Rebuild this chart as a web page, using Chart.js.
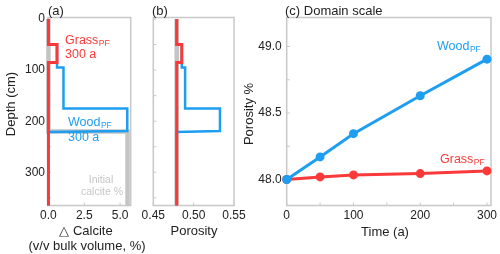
<!DOCTYPE html>
<html>
<head>
<meta charset="utf-8">
<script src="https://cdn.jsdelivr.net/npm/chart.js@4.4.1/dist/chart.umd.min.js"></script>
<style>
html, body { margin: 0; padding: 0; background: #fff; }
#wrap { position: relative; width: 500px; height: 254px; overflow: hidden; }
canvas { position: absolute; left: 0; top: 0; }
</style>
</head>
<body>
<div id="wrap">
<canvas id="chartA" width="500" height="254"></canvas>
<canvas id="chartB" width="500" height="254"></canvas>
<canvas id="chartC" width="500" height="254"></canvas>
</div>
<script>
// ---- data ----
// depth profiles (cm), step shaped
const grassDepth = [0, 50, 50, 85, 85, 365];
const woodDepth = [0, 50, 50, 95, 95, 175, 175, 219, 221, 365];
const initDepthA = [0, 220, 220, 365];
const initDepthB = [0, 365];

// (a) change in calcite, v/v bulk volume %
const grassCalcite = [0, 0, 0.6, 0.6, 0, 0];
const woodCalcite = [0, 0, 0.6, 0.6, 1.05, 1.05, 5.5, 5.5, 0, 0];
const initCalcite = [0, 0, 5.52, 5.52];

// (b) porosity
const grassPoro = [0.479, 0.479, 0.4853, 0.4853, 0.479, 0.479];
const woodPoro = [0.479, 0.479, 0.4853, 0.4853, 0.4894, 0.4894, 0.5326, 0.5326, 0.479, 0.479];
const initPoro = [0.479, 0.479];

// (c) domain scale porosity % over time
const timeYears = [0, 50, 100, 200, 300];
const woodDomain = [48.0, 48.17, 48.345, 48.63, 48.905];
const grassDomain = [48.0, 48.02, 48.035, 48.045, 48.065];

const RED = "#fa3a3a";
const BLUE = "#1e9ef0";
const GRAY = "#c4c4c4";
const FRAME = "#c8c8c8";

Chart.defaults.font.family = "'Liberation Sans', Arial, sans-serif";
Chart.defaults.font.size = 12;
Chart.defaults.color = "#222";
Chart.defaults.animation = false;

function pts(xs, ys) {
    return xs.map((x, i) => ({ x: x, y: ys[i] }));
}

function stepLine(label, xs, ys, color, width) {
    return {
        label: label,
        data: pts(xs, ys),
        showLine: true,
        borderColor: color,
        backgroundColor: color,
        borderWidth: width,
        pointRadius: 0,
        tension: 0,
        clip: false
    };
}

// fix the axis boxes so every plot area lands where the figure has it
function sizeX(h) {
    return s => { s.height = h; s.paddingLeft = 0; s.paddingRight = 0; };
}
function sizeY(w) {
    return s => { s.width = w; s.paddingTop = 0; s.paddingBottom = 0; };
}

// grey frame plus short inward tick marks
const frameTicks = {
    id: "frameTicks",
    beforeDatasetsDraw(chart) {
        const { ctx, chartArea: a, scales } = chart;
        ctx.save();
        ctx.strokeStyle = FRAME;
        ctx.lineWidth = 1.5;
        ctx.strokeRect(a.left, a.top, a.width, a.height);
        ctx.lineWidth = 1;
        [scales.x, scales.y].forEach(s => {
            s.ticks.forEach(t => {
                const p = s.getPixelForValue(t.value);
                ctx.beginPath();
                if (s.isHorizontal()) {
                    ctx.moveTo(p, a.bottom);
                    ctx.lineTo(p, a.bottom - 3);
                } else {
                    ctx.moveTo(a.left, p);
                    ctx.lineTo(a.left + 3, p);
                }
                ctx.stroke();
            });
        });
        ctx.restore();
    }
};

// titles, axis names and in-plot labels
const notes = [
    { t: "(a)", x: 48, y: 11 },
    { t: "(b)", x: 152, y: 11 },
    { t: "(c) Domain scale", x: 285, y: 11 },
    { t: "Depth (cm)", x: 11, y: 104, rot: true },
    { t: "Porosity %", x: 249, y: 114, rot: true },
    { t: "\u25B3 Calcite", x: 86, y: 231, align: "center" },
    { t: "(v/v bulk volume, %)", x: 87, y: 246, align: "center" },
    { t: "Porosity", x: 194, y: 231, align: "center" },
    { t: "Time (a)", x: 385, y: 232, align: "center" },
    { t: "Grass", sub: "PF", x: 65, y: 41, color: RED, size: 12.5 },
    { t: "300 a", x: 65, y: 55, color: RED, size: 12.5 },
    { t: "Wood", sub: "PF", x: 68, y: 123, color: BLUE, size: 12.5 },
    { t: "300 a", x: 68, y: 137.5, color: BLUE, size: 12.5 },
    { t: "Initial", x: 101, y: 180, color: "#c6c6c6", size: 10.5, align: "center" },
    { t: "calcite %", x: 102, y: 192.5, color: "#c6c6c6", size: 10.5, align: "center" },
    { t: "Wood", sub: "PF", x: 437, y: 47, color: BLUE, size: 12.5 },
    { t: "Grass", sub: "PF", x: 440, y: 160, color: RED, size: 12.5 }
];

const textLayer = {
    id: "textLayer",
    afterDraw(chart) {
        const ctx = chart.ctx;
        const fam = Chart.defaults.font.family;
        ctx.save();
        ctx.textBaseline = "middle";
        notes.forEach(n => {
            const size = n.size || 13;
            ctx.font = size + "px " + fam;
            ctx.fillStyle = n.color || "#222";
            ctx.textAlign = n.align || "left";
            if (n.rot) {
                ctx.save();
                ctx.translate(n.x, n.y);
                ctx.rotate(-Math.PI / 2);
                ctx.textAlign = "center";
                ctx.fillText(n.t, 0, 0);
                ctx.restore();
                return;
            }
            ctx.fillText(n.t, n.x, n.y);
            if (n.sub) {
                const w = ctx.measureText(n.t).width;
                ctx.font = (size * 0.68) + "px " + fam;
                ctx.textAlign = "left";
                ctx.fillText(n.sub, n.x + w + 0.5, n.y + 3);
            }
        });
        ctx.restore();
    }
};

const quiet = { legend: { display: false }, tooltip: { enabled: false } };
const noGrid = { display: false, drawTicks: false };
const noBorder = { display: false };

// (a) delta calcite vs depth
new Chart(document.getElementById("chartA"), {
    type: "scatter",
    data: {
        datasets: [
            stepLine("Grass PF", grassCalcite, grassDepth, RED, 3),
            stepLine("Wood PF", woodCalcite, woodDepth, BLUE, 2.5),
            stepLine("Initial calcite", initCalcite, initDepthA, GRAY, 4.5)
        ]
    },
    options: {
        responsive: false,
        layout: { padding: { left: 0, top: 17.5, right: 369.3, bottom: 0 } },
        plugins: quiet,
        scales: {
            x: {
                type: "linear", min: -0.03, max: 5.74,
                afterFit: sizeX(48.5),
                grid: noGrid, border: noBorder,
                ticks: { stepSize: 2.5, includeBounds: false, padding: 3, autoSkip: false, maxRotation: 0,
                    callback: v => v.toFixed(1) }
            },
            y: {
                type: "linear", reverse: true, min: -3, max: 365,
                afterFit: sizeY(48),
                grid: noGrid, border: noBorder,
                ticks: { stepSize: 50, includeBounds: false, padding: 3, autoSkip: false,
                    callback: v => (v % 100 === 0 ? v : "") }
            }
        }
    },
    plugins: [frameTicks]
});

// (b) porosity vs depth
new Chart(document.getElementById("chartB"), {
    type: "scatter",
    data: {
        datasets: [
            stepLine("Grass PF", grassPoro, grassDepth, RED, 3),
            stepLine("Wood PF", woodPoro, woodDepth, BLUE, 2.5),
            stepLine("Initial", initPoro, initDepthB, GRAY, 4.5)
        ]
    },
    options: {
        responsive: false,
        layout: { padding: { left: 0, top: 17.5, right: 266, bottom: 0 } },
        plugins: quiet,
        scales: {
            x: {
                type: "linear", min: 0.45, max: 0.55,
                afterFit: sizeX(48.5),
                grid: noGrid, border: noBorder,
                ticks: { stepSize: 0.05, includeBounds: false, padding: 3, autoSkip: false, maxRotation: 0,
                    callback: v => v.toFixed(2) }
            },
            y: {
                type: "linear", reverse: true, min: -3, max: 365,
                afterFit: sizeY(153.3),
                grid: noGrid, border: noBorder,
                ticks: { stepSize: 50, includeBounds: false, display: false }
            }
        }
    },
    plugins: [frameTicks]
});

// (c) domain scale porosity over time
const dotLine = (label, ys, color) => ({
    label: label,
    data: pts(timeYears, ys),
    showLine: true,
    borderColor: color,
    backgroundColor: color,
    borderWidth: 3,
    pointRadius: 4.5,
    pointBorderWidth: 0,
    pointBackgroundColor: color,
    clip: false
});

new Chart(document.getElementById("chartC"), {
    type: "scatter",
    data: {
        datasets: [
            dotLine("Wood PF", woodDomain, BLUE),
            dotLine("Grass PF", grassDomain, RED)
        ]
    },
    options: {
        responsive: false,
        layout: { padding: { left: 0, top: 17.5, right: 9, bottom: 0 } },
        plugins: quiet,
        scales: {
            x: {
                type: "linear", min: 0, max: 306,
                afterFit: sizeX(48.5),
                grid: noGrid, border: noBorder,
                ticks: { stepSize: 50, includeBounds: false, padding: 3, autoSkip: false, maxRotation: 0,
                    callback: v => (v % 100 === 0 ? v : "") }
            },
            y: {
                type: "linear", min: 47.805, max: 49.218,
                afterFit: sizeY(286.7),
                grid: noGrid, border: noBorder,
                ticks: { stepSize: 0.25, includeBounds: false, padding: 5, autoSkip: false,
                    callback: v => (Math.abs(v * 2 - Math.round(v * 2)) < 1e-6 ? v.toFixed(1) : "") }
            }
        }
    },
    plugins: [frameTicks, textLayer]
});
</script>
</body>
</html>
